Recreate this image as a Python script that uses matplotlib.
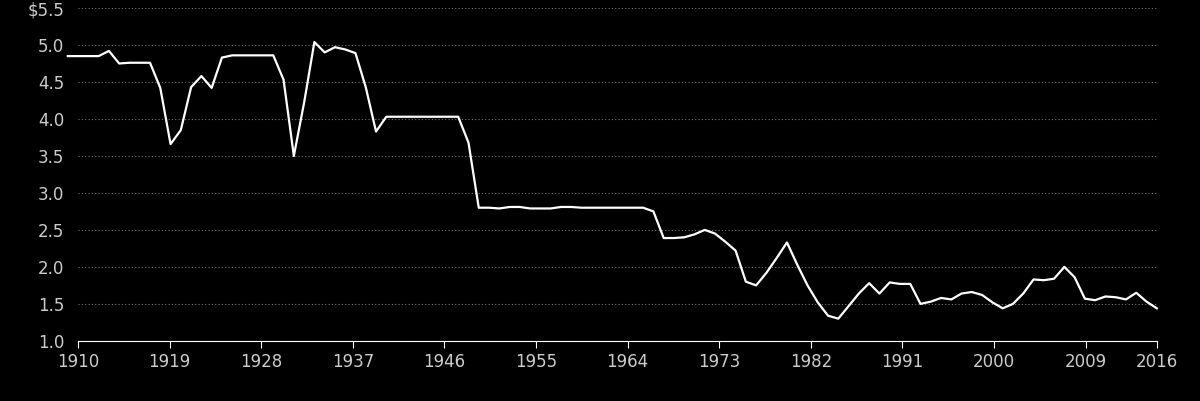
import matplotlib
matplotlib.use("Agg")
import matplotlib.pyplot as plt
import numpy as np

values = [4.85,4.85,4.85,4.85,4.92,4.75,4.76,4.76,4.76,4.42,
          3.66,3.85,4.43,4.58,4.42,4.83,4.86,4.86,4.86,4.86,
          4.86,4.53,3.50,4.22,5.04,4.90,4.97,4.94,4.89,4.43,
          3.83,4.03,4.03,4.03,4.03,4.03,4.03,4.03,4.03,3.68,
          2.80,2.80,2.79,2.81,2.81,2.79,2.79,2.79,2.81,2.81,
          2.80,2.80,2.80,2.80,2.80,2.80,2.80,2.75,2.39,2.39,
          2.40,2.44,2.50,2.45,2.34,2.22,1.80,1.75,1.92,2.12,
          2.33,2.03,1.75,1.52,1.34,1.30,1.47,1.64,1.78,1.64,
          1.79,1.77,1.77,1.50,1.53,1.58,1.56,1.64,1.66,1.62,
          1.52,1.44,1.50,1.64,1.83,1.82,1.84,2.00,1.86,1.57,
          1.55,1.60,1.59,1.56,1.65,1.53,1.44]
start_year, end_year = 1909, 2016
xticks = [1910,1919,1928,1937,1946,1955,1964,1973,1982,1991,2000,2009,2016]
yticks = [1.0,1.5,2.0,2.5,3.0,3.5,4.0,4.5,5.0,5.5]
ylabels = ["1.0","1.5","2.0","2.5","3.0","3.5","4.0","4.5","5.0","$5.5"]

x = np.linspace(start_year, end_year, len(values))

fig = plt.figure(figsize=(12, 4.01), dpi=100, facecolor="black")
ax = fig.add_axes([0.065, 0.15, 0.899, 0.83], facecolor="black")
ax.plot(x, values, color="white", lw=1.6, clip_on=False)
ax.set_xlim(1910, 2016)
ax.set_ylim(1.0, 5.5)
ax.set_xticks(xticks)
ax.set_yticks(yticks)
ax.set_yticklabels(ylabels)
ax.grid(axis="y", color="#777777", linestyle=(0, (1, 2)), lw=0.8)
for s in ["top", "right", "left"]:
    ax.spines[s].set_visible(False)
ax.spines["bottom"].set_color("white")
ax.tick_params(axis="y", length=0, colors="#cccccc", labelsize=12, pad=10)
ax.tick_params(axis="x", colors="#cccccc", labelsize=12, length=5, direction="out")
ax.tick_params(axis="x", color="white")
fig.savefig("out.png", facecolor="black")
